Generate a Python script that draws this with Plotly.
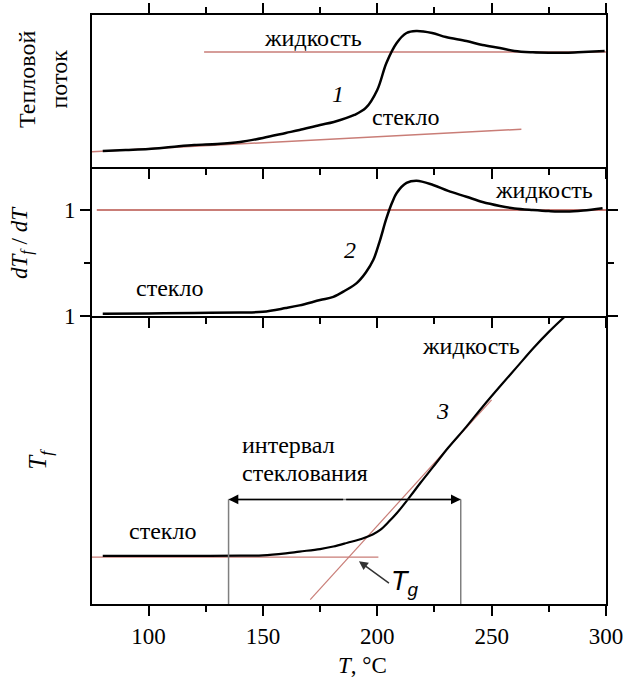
import plotly.graph_objects as go

# ---------------- data ----------------
# Panel 1: heat flow (arbitrary units)
T1 = [80, 90, 100, 110, 120, 130, 140, 150, 160, 166, 175, 181, 190, 195, 200, 204,
      208.5, 212.8, 217, 224, 230, 239, 246, 253.6, 260, 268, 275, 282.7, 290, 299.4]
H1 = [16, 17, 18, 20, 22, 23, 25, 29, 34, 37, 42, 45, 52, 59, 77, 104,
      124, 134, 136, 134, 130, 126, 122, 119, 116, 114.7, 114.3, 114.3, 115, 116]
liquid1_T = [124.3, 300]
liquid1_H = [115, 115]
glass1_T = [75.3, 263]
glass1_H = [15.3, 37.7]

# Panel 2: dTf/dT
T2 = [80, 100, 120, 140, 150, 160, 166, 175, 180.8, 186, 191, 195, 198.3, 201, 204,
      206.5, 208.5, 212.8, 217.2, 224.4, 231, 239, 246, 253.6, 260, 268, 275, 282.7, 290, 298.5]
D2 = [0.02, 0.024, 0.028, 0.033, 0.04, 0.075, 0.10, 0.15, 0.18, 0.24, 0.31, 0.41, 0.53, 0.70, 0.92,
      1.07, 1.16, 1.255, 1.276, 1.236, 1.18, 1.125, 1.075, 1.038, 1.015, 1.0, 0.99, 0.985, 0.995, 1.016]
liquid2_T = [77.4, 300]
liquid2_D = [1.0, 1.0]

# Panel 3: fictive temperature Tf
T3 = [80, 100, 120, 140, 150, 160, 166, 175, 180.8, 187, 193.9, 198, 201.3, 205, 208.5,
      214.3, 219, 224.5, 231, 239, 246, 253.6, 261, 268.2, 275, 283]
F3 = [188.1, 188.1, 188.1, 188.2, 188.3, 189.1, 189.8, 190.8, 191.8, 193.3, 195.1, 196.6, 198.4, 201.6, 205.0,
      211.6, 217.2, 223.5, 231.0, 239.4, 247.2, 255.3, 263.0, 270.5, 277.0, 283.9]
glass3_T = [75.3, 200.5]
glass3_F = [187.6, 187.6]
tangent3_T = [170.7, 250]
tangent3_F = [170.7, 250]
interval_T = [135, 236.5]
interval_F = 210.5
Tg_point = (192.0, 186.0)

x_ticks = [100, 150, 200, 250, 300]
x_minor = [125, 175, 225, 275]

RED = "#c97d77"
SERIF = "Liberation Serif"

fig = go.Figure()

# panel 1
fig.add_trace(go.Scatter(x=liquid1_T, y=liquid1_H, mode="lines", line=dict(color=RED, width=1.5),
                         xaxis="x", yaxis="y", showlegend=False))
fig.add_trace(go.Scatter(x=glass1_T, y=glass1_H, mode="lines", line=dict(color=RED, width=1.5),
                         xaxis="x", yaxis="y", showlegend=False))
fig.add_trace(go.Scatter(x=T1, y=H1, mode="lines", line=dict(color="black", width=2.5, shape="spline"),
                         xaxis="x", yaxis="y", showlegend=False))
# panel 2
fig.add_trace(go.Scatter(x=liquid2_T, y=liquid2_D, mode="lines", line=dict(color=RED, width=2),
                         xaxis="x2", yaxis="y2", showlegend=False))
fig.add_trace(go.Scatter(x=T2, y=D2, mode="lines", line=dict(color="black", width=2.5, shape="spline"),
                         xaxis="x2", yaxis="y2", showlegend=False))
# panel 3
fig.add_trace(go.Scatter(x=glass3_T, y=glass3_F, mode="lines", line=dict(color=RED, width=1.2),
                         xaxis="x3", yaxis="y3", showlegend=False))
fig.add_trace(go.Scatter(x=tangent3_T, y=tangent3_F, mode="lines", line=dict(color=RED, width=1.2),
                         xaxis="x3", yaxis="y3", showlegend=False))
fig.add_trace(go.Scatter(x=T3, y=F3, mode="lines", line=dict(color="black", width=2.2, shape="spline"),
                         xaxis="x3", yaxis="y3", showlegend=False))
# interval bracket verticals
for tv in interval_T:
    fig.add_trace(go.Scatter(x=[tv, tv], y=[169, interval_F], mode="lines",
                             line=dict(color="#7f7f7f", width=1.5),
                             xaxis="x3", yaxis="y3", showlegend=False))
# horizontal line of the bracket
fig.add_trace(go.Scatter(x=interval_T, y=[interval_F, interval_F], mode="lines",
                         line=dict(color="#7f7f7f", width=1.5),
                         xaxis="x3", yaxis="y3", showlegend=False))

XR = [75.3, 300]
common_x = dict(range=XR, showline=True, linecolor="black", linewidth=2, automargin=False,
                ticks="outside", tickcolor="black", tickwidth=2, ticklen=10,
                tickmode="array", tickvals=x_ticks, showgrid=False, zeroline=False,
                minor=dict(tickmode="array", tickvals=x_minor, ticks="outside",
                           ticklen=6, tickwidth=2, tickcolor="black"))

fig.update_layout(
    width=624, height=682,
    margin=dict(l=92, r=18, t=15, b=78),
    paper_bgcolor="white", plot_bgcolor="white",
    font=dict(family=SERIF, size=22, color="black"),
    xaxis=dict(common_x, domain=[0, 1], anchor="y", mirror="ticks", showticklabels=False),
    yaxis=dict(domain=[0.742, 1], range=[0, 152], showline=True, linecolor="black", linewidth=2,
               automargin=False, mirror=True, showticklabels=False, ticks="", showgrid=False,
               zeroline=False),
    xaxis2=dict(common_x, domain=[0, 1], anchor="y2", mirror=False, showticklabels=False),
    yaxis2=dict(domain=[0.489, 0.742], range=[0, 1.406], showline=True, linecolor="black", linewidth=2,
                automargin=False, mirror="ticks", ticks="outside", tickcolor="black", tickwidth=2,
                ticklen=10, tickmode="array", tickvals=[0, 1], ticktext=["1", "1"],
                tickfont=dict(family=SERIF, size=23),
                minor=dict(tickmode="array", tickvals=[0.5], ticks="outside", ticklen=6,
                           tickwidth=2, tickcolor="black"),
                showgrid=False, zeroline=False),
    xaxis3=dict(common_x, domain=[0, 1], anchor="y3", mirror=False, showticklabels=True,
                tickfont=dict(family=SERIF, size=23)),
    yaxis3=dict(domain=[0, 0.489], range=[169, 283.3], showline=True, linecolor="black", linewidth=2,
                automargin=False, mirror=True, showticklabels=False, ticks="", showgrid=False,
                zeroline=False),
)

ann = []
def txt(x, y, s, xref="x", yref="y", size=24, **kw):
    d = dict(x=x, y=y, xref=xref, yref=yref, text=s, showarrow=False,
             font=dict(family=SERIF, size=size, color="black"))
    d.update(kw)
    ann.append(d)

# panel 1 labels
txt(172, 129, "жидкость")
txt(182.8, 73, "<i>1</i>")
txt(212.5, 50, "стекло")
# panel 2 labels
txt(273, 1.19, "жидкость", "x2", "y2")
txt(188, 0.62, "<i>2</i>", "x2", "y2")
txt(109, 0.26, "стекло", "x2", "y2")
# panel 3 labels
txt(241, 271.2, "жидкость", "x3", "y3")
txt(228.7, 245.4, "<i>3</i>", "x3", "y3")
txt(140, 232, "интервал", "x3", "y3", xanchor="left")
txt(140, 221, "стеклования", "x3", "y3", xanchor="left")
txt(106, 198, "стекло", "x3", "y3")

# y axis titles
ann.append(dict(x=-0.095, y=0.890, xref="paper", yref="paper", text="Тепловой<br>поток",
                xanchor="center", yanchor="middle",
                showarrow=False, textangle=-90, font=dict(family=SERIF, size=24)))
ann.append(dict(x=-0.136, y=0.613, xref="paper", yref="paper",
                text="<i>dT<sub>f</sub></i> / <i>dT</i>", xanchor="center", yanchor="middle",
                showarrow=False, textangle=-90, font=dict(family=SERIF, size=23)))
ann.append(dict(x=-0.101, y=0.245, xref="paper", yref="paper", text="<i>T<sub>f</sub></i>",
                xanchor="center", yanchor="middle",
                showarrow=False, textangle=-90, font=dict(family=SERIF, size=25)))
# x axis title
ann.append(dict(x=0.527, y=-0.1036, xref="paper", yref="paper", text="<i>T</i>, °C",
                xanchor="center", yanchor="middle",
                showarrow=False, font=dict(family=SERIF, size=23)))

# interval arrowheads
mid = (interval_T[0] + interval_T[1]) / 2
for tv in interval_T:
    ann.append(dict(x=tv, y=interval_F, ax=mid, ay=interval_F, xref="x3", yref="y3",
                    axref="x3", ayref="y3", text="", showarrow=True, arrowhead=2,
                    arrowsize=1.3, arrowwidth=1.5, arrowcolor="black", standoff=0))
# Tg annotation
ann.append(dict(x=Tg_point[0], y=Tg_point[1], xref="x3", yref="y3", text="<i>T<sub>g</sub></i>",
                showarrow=True, arrowhead=2, arrowsize=1.2, arrowwidth=1.5, arrowcolor="#333",
                ax=30, ay=22, xanchor="left", font=dict(family="Liberation Sans", size=27)))

fig.update_layout(annotations=ann)
fig.write_html("out.html")
